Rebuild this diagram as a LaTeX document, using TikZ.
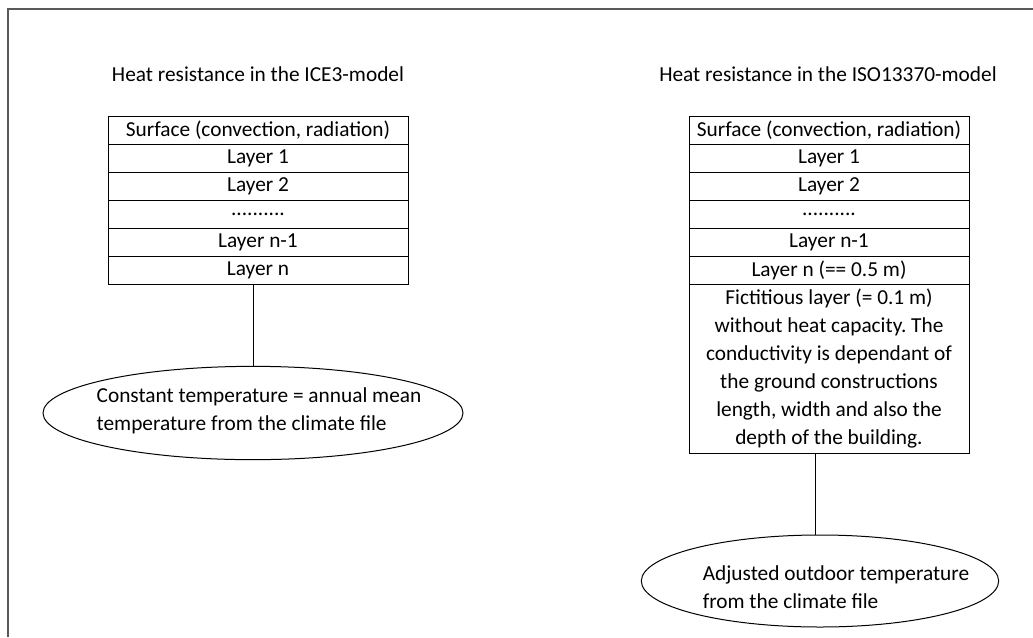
\documentclass[tikz,border=0pt]{standalone}
\usepackage{fontspec}
\setmainfont{Carlito}
\frenchspacing
\usetikzlibrary{positioning, shapes.geometric}

\begin{document}
\begin{tikzpicture}[
  x=0.75pt, y=-0.75pt,
  layerbox/.style = {
    rectangle, draw=black, line width=0.75pt,
    inner sep=0pt, outer sep=0pt, align=center,
    minimum height=21pt, font=\fontsize{16}{21}\selectfont},
  tempoval/.style = {
    ellipse, draw=black, line width=0.75pt,
    inner sep=0pt, outer sep=0pt},
  ttl/.style  = {font=\fontsize{16}{19}\selectfont},
  link/.style = {draw=black, line width=0.75pt}
]

% page frame (top and left edge only)
\useasboundingbox (0,0) rectangle (1033,637);
\draw[black!65, line width=1pt] (8,637) -- (8,9) -- (1033,9);

%── ICE3 model ───────────────────────────────────────────────────
\node[ttl] (T1) at (258,74) {Heat resistance in the ICE3-model};

\node[layerbox, minimum width=225pt, anchor=north] (A0) at (258,116)
  {Surface (convection, radiation)};
\node[layerbox, minimum width=225pt, below=0pt of A0] (A1) {Layer 1};
\node[layerbox, minimum width=225pt, below=0pt of A1] (A2) {Layer 2};
\node[layerbox, minimum width=225pt, below=0pt of A2] (A3) {..........};
\node[layerbox, minimum width=225pt, below=0pt of A3] (A4) {Layer n-1};
\node[layerbox, minimum width=225pt, below=0pt of A4] (A5) {Layer n};

\node[tempoval, minimum width=315pt, minimum height=70pt,
  label={[align=left, xshift=4.5pt, yshift=2pt,
          font=\fontsize{16}{21}\selectfont]center:Constant temperature = annual mean\\
          temperature from the climate file}] (E1) at (253,413) {};

\draw[link] (A5.south -| 253,0) -- (E1.north);

%── ISO13370 model ───────────────────────────────────────────────
\node[ttl] (T2) at (828,74) {Heat resistance in the ISO13370-model};

\node[layerbox, minimum width=210pt, anchor=north] (B0) at (829,116)
  {Surface (convection, radiation)};
\node[layerbox, minimum width=210pt, below=0pt of B0] (B1) {Layer 1};
\node[layerbox, minimum width=210pt, below=0pt of B1] (B2) {Layer 2};
\node[layerbox, minimum width=210pt, below=0pt of B2] (B3) {..........};
\node[layerbox, minimum width=210pt, below=0pt of B3] (B4) {Layer n-1};
\node[layerbox, minimum width=210pt, below=0pt of B4] (B5) {Layer n (== 0.5 m)};
\node[layerbox, minimum width=210pt, minimum height=126.75pt,
  below=0pt of B5] (B6)
  {Fictitious layer (= 0.1 m)\\
   without heat capacity. The\\
   conductivity is dependant of\\
   the ground constructions\\
   length, width and also the\\
   depth of the building.};

\node[tempoval, minimum width=268pt, minimum height=69pt,
  label={[align=left, xshift=12pt, yshift=-4.5pt,
          font=\fontsize{16}{21}\selectfont]center:Adjusted outdoor temperature\\
          from the climate file}] (E2) at (820,581) {};

\draw[link] (B6.south -| 815,0) -- (E2.north -| 815,0);

\end{tikzpicture}
\end{document}
